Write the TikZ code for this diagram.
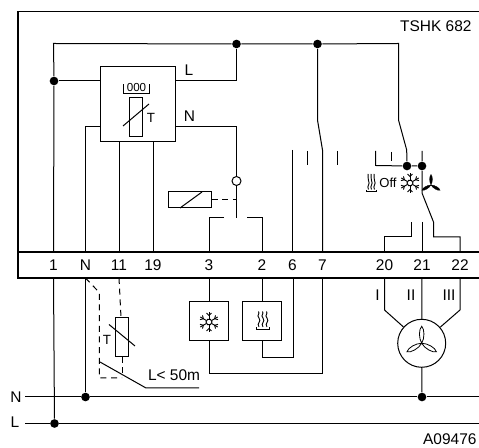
\documentclass[tikz,border=0pt]{standalone}
\usepackage{fontspec}
\setmainfont{Liberation Sans}
\usetikzlibrary{calc}
\tikzset{every picture/.style={line width=0.75pt}}
\tikzset{
  wire/.style={line width=0.75pt},
  frame/.style={line width=1.4pt},
  dashwire/.style={line width=0.75pt,dash pattern={on 4.5pt off 3.5pt}},
  dot/.style={circle,fill=black,inner sep=0pt,minimum size=6.5pt},
  box/.style={draw,line width=0.75pt,inner sep=0pt},
  lbl/.style={inner sep=0.75pt,font=\fontsize{11.6}{14}\selectfont},
  smalllbl/.style={inner sep=0.75pt,font=\fontsize{10}{12}\selectfont},
}
\newcommand{\iconflake}[2]{%
  \begin{scope}[shift={(#1,#2)},line width=0.7pt]
    \draw (0:3) -- (60:3) -- (120:3) -- (180:3) -- (240:3) -- (300:3) -- cycle;
    \foreach \a in {30,90,150,210,270,330} {
      \draw (\a:3) -- (\a:10);
      \draw ($(\a:6.5)+(\a+45:3.5)$) -- (\a:6.5) -- ($(\a:6.5)+(\a-45:3.5)$);
    }
  \end{scope}}
\newcommand{\iconheat}[3]{%
  \begin{scope}[shift={(#1,#2)},xscale=#3,line width=0.7pt]
    \foreach \s in {-4,0,4} {
      \draw (\s,0) .. controls (\s-3,-4) and (\s+3,-5) .. (\s,-9) .. controls (\s-3,-12) and (\s+1.5,-13) .. (\s-0.5,-15.5);
    }
    \draw (-7,2) -- (7,2);
    \draw (-6.5,0.5) -- (-6.5,2) (6.5,0.5) -- (6.5,2);
  \end{scope}}
\newcommand{\iconfan}[4]{%
  \begin{scope}[shift={(#1,#2)},scale=#3]
    \foreach \a in {0,120,240} {
      \draw[rotate=\a,#4] (0,0) .. controls (-3,-5) and (-3,-14) .. (0,-17) .. controls (3,-14) and (3,-5) .. (0,0);
    }
  \end{scope}}

\begin{document}
\begin{tikzpicture}[x=0.75pt,y=0.75pt,yscale=-1,xscale=1]
\useasboundingbox (0,0) rectangle (479,448);

% Housing and terminal strip
\draw[frame] (479,11.5) -- (18,11.5) -- (18,278) -- (479,278);
\draw[frame] (18,252) -- (479,252);
\node[lbl,anchor=east] (typeName) at (473,26) {TSHK 682};
\foreach \tname/\xpos/\tlabel in {1/53.5/1,N/85.5/N,11/119/11,19/153/19,3/209/3,2/262/2,6/292.5/6,7/322.5/7,20/384.5/20,21/422/21,22/460/22} {
  \coordinate (u\tname) at (\xpos,252);
  \coordinate (d\tname) at (\xpos,278);
  \node[lbl] (t\tname) at (\xpos,265) {\tlabel};
}

% Junctions
\node[dot] (jCtl) at (54,81) {};
\node[dot] (jTopA) at (236.5,44) {};
\node[dot] (jTopB) at (317.5,44) {};
\node[dot] (jHeat) at (407,166) {};
\node[dot] (jFan) at (422,166) {};
\node[dot] (jN) at (85.5,397) {};
\node[dot] (jMot) at (422,397) {};
\node[dot] (jL) at (54.5,423.5) {};

% Controller
\node[box,minimum width=56.6pt,minimum height=56.6pt] (ctl) at (138.25,104.25) {};
\node[box,minimum width=10pt,minimum height=29pt] (ctlSens) at (136.25,117) {};
\draw[wire] (123,126) -- (149,104);
\node[smalllbl] (ctlT) at (151,117.5) {T};
\node[inner sep=0.75pt,font=\fontsize{8.7}{10}\selectfont] (ctlNum) at (136.5,88) {000};
\draw[wire] (123,84.5) -- (123,93.5) -- (149.5,93.5) -- (149.5,84.5);
\node[lbl] (lblCtlL) at (189,70) {L};
\node[lbl] (lblCtlN) at (189.5,116) {N};
\coordinate (ctlOutL) at (176,81);
\coordinate (ctlOutN) at (176,126.5);
\coordinate (ctlInL) at (100.5,81);
\coordinate (ctlInN) at (100.5,126.5);
\coordinate (ctlA) at (119,142);
\coordinate (ctlB) at (153,142);
\draw[wire] (jCtl) -- (ctlInL);
\draw[wire] (ctlOutL) -| (jTopA);
\draw[wire] (uN) |- (ctlInN);
\draw[wire] (ctlA) -- (u11);
\draw[wire] (ctlB) -- (u19);
\coordinate (topCorner) at (53.5,43.5);
\coordinate (topEnd) at (398.5,43.5);
\draw[wire] (u1) -- (jCtl) -- (topCorner) -- (jTopA) -- (jTopB) -- (topEnd) -- (398.5,120) -- (406.7,150) -- (jHeat);

% Relay
\node[box,minimum width=32pt,minimum height=12pt] (coil) at (189.75,200) {};
\draw[wire] (180,208) -- (202,192);
\node[draw,circle,inner sep=0pt,minimum size=6.75pt,line width=0.75pt] (relPivot) at (236.5,181) {};
\coordinate (relEnd) at (236.5,218);
\draw[wire] (ctlOutN) -| (relPivot);
\draw[wire] (relPivot) -- (relEnd);
\draw[dashwire] (coil) -- (236.5,200);
\draw[wire] (224,217.5) -| (u3);
\draw[wire] (247,217.5) -| (u2);

% Contacts 6 and 7
\draw[wire] (292.5,150) -- (u6);
\draw[wire] (307.5,151) -- (307.5,165.5);
\draw[wire] (337.3,151) -- (337.3,165.5);
\draw[wire] (jTopB) -- (317.5,120) -- (322.5,150) -- (u7);

% Selector switch
\draw[wire] (375.5,151) -- (375.5,165.5) -- (jHeat) -- (jFan);
\draw[wire] (391,152) -- (391,161);
\draw[wire] (422,151) -- (jFan) -- (422,193) -- (433.5,222) -- (433.5,237) -| (u22);
\draw[wire] (411,222.5) -- (411,237) -| (u20);
\draw[wire] (422,222) -- (u21);
\iconheat{371.5}{189.5}{0.75}
\node[inner sep=0.75pt,font=\fontsize{9.8}{12}\selectfont] (lblOff) at (388,183) {Off};
\iconflake{410}{183}
\iconfan{431}{185}{0.62}{fill=black,line width=0.2pt}

% Loads
\node[box,minimum width=28.9pt,minimum height=28.9pt] (cool) at (209,321.25) {};
\node[box,minimum width=28.9pt,minimum height=28.9pt] (heat) at (262,321.25) {};
\iconflake{209}{322}
\iconheat{263}{327}{1}
\draw[wire] (d3) -- (cool);
\draw[wire] (d2) -- (heat);
\draw[wire] (cool) |- (322.5,373.7) -- (d7);
\draw[wire] (heat) |- (293,358) -- (293,278);

% Motor
\node[draw,circle,inner sep=0pt,minimum size=36pt,line width=0.75pt] (motor) at (421.7,343.3) {};
\iconfan{421.7}{343.3}{1}{line width=0.6pt}
\draw[wire] (d20) -- (384.5,310) -- (motor);
\draw[wire] (d22) -- (460,310) -- (motor);
\draw[wire] (d21) -- (motor);
\draw[wire] (motor) -- (jMot);
\node[lbl] (lblI) at (377.5,295) {I};
\node[lbl] (lblII) at (411,295) {II};
\node[lbl] (lblIII) at (449,295) {III};

% Mains
\node[lbl] (lblN) at (16,397) {N};
\node[lbl] (lblL) at (15,422) {L};
\coordinate (busN) at (25,397);
\coordinate (busL) at (25,423.5);
\draw[wire] (busN) -- (jN) -- (jMot) -- (479,397);
\draw[wire] (busL) -- (jL) -- (479,423.5);
\draw[wire] (d1) -- (jL);
\draw[wire] (dN) -- (jN);
\node[lbl,anchor=east] (drawingNo) at (478,439) {A09476};

% Remote sensor
\node[box,minimum width=10pt,minimum height=29pt] (remote) at (122,337) {};
\draw[wire] (109,324.5) -- (135,346);
\node[smalllbl] (remoteT) at (107,340) {T};
\draw[dashwire] (d11) -- (remote);
\draw[dashwire] (remote) -- (122,378);
\draw[dashwire] (dN) -- (99.3,292.5) -- (99.3,378) -- (122,378);
\draw[wire] (100,362) -- (146,388) -- (199,388);
\node[lbl,anchor=west] (lblLen) at (146.5,375) {L< 50m};

\end{tikzpicture}
\end{document}
